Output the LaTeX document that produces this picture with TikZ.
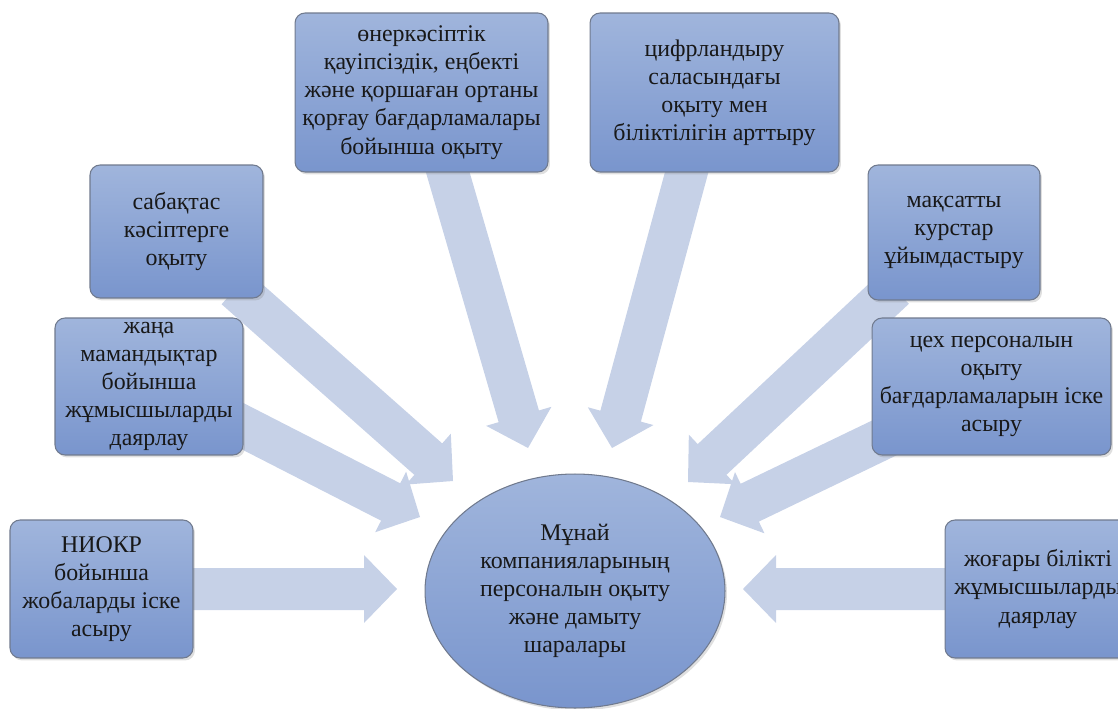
\documentclass[tikz,border=0pt]{standalone}
\usepackage{fontspec}
\setmainfont{Liberation Serif}
\usepackage{tikz}
\usetikzlibrary{shapes,arrows,positioning,shadows,calc,backgrounds}

\definecolor{boxtop}{RGB}{160,181,220}
\definecolor{boxbottom}{RGB}{121,149,205}
\definecolor{boxline}{RGB}{112,122,142}
\definecolor{arrowfill}{RGB}{198,209,231}
\definecolor{textdark}{RGB}{24,24,24}

% wide block arrow from #1 to #2
\newcommand{\blockarrow}[2]{%
    \coordinate (hb) at ($(#2)!0.66cm!(#1)$);
    \fill[arrowfill] ($(#1)!0.42cm!90:(#2)$) -- ($(hb)!0.42cm!90:(#2)$)
        -- ($(hb)!0.68cm!90:(#2)$) -- (#2) -- ($(hb)!0.68cm!-90:(#2)$)
        -- ($(hb)!0.42cm!-90:(#2)$) -- ($(#1)!0.42cm!-90:(#2)$) -- cycle;
}

\begin{document}
\begin{tikzpicture}[x=0.02cm, y=-0.02cm,
    measurebox/.style={draw=boxline, line width=0.6pt, rounded corners=0.2cm,
        top color=boxtop, bottom color=boxbottom,
        drop shadow={opacity=0.25, shadow xshift=0.04cm, shadow yshift=-0.05cm},
        align=center, inner sep=2pt, text=textdark,
        font=\fontsize{13.6}{16}\selectfont},
    hub/.style={ellipse, draw=boxline, line width=0.6pt,
        top color=boxtop, bottom color=boxbottom,
        drop shadow={opacity=0.25, shadow xshift=0.04cm, shadow yshift=-0.05cm},
        align=center, inner sep=0pt, text=textdark,
        font=\fontsize{13.6}{16}\selectfont}]
    \useasboundingbox (0,0) rectangle (1118,709);
    \clip (0,0) rectangle (1118,709);

    % Central ellipse
    \node[hub, minimum width=6.0cm, minimum height=4.68cm] (hub) at (575,591)
        {Мұнай\\компанияларының\\персоналын оқыту\\және дамыту\\шаралары};

    % Boxes around
    \node[measurebox, minimum width=5.06cm, minimum height=3.18cm] (safety) at (421.5,92.5)
        {өнеркәсіптік\\қауіпсіздік, еңбекті\\және қоршаған ортаны\\қорғау бағдарламалары\\бойынша оқыту};
    \node[measurebox, minimum width=4.98cm, minimum height=3.18cm] (digital) at (714.5,92.5)
        {цифрландыру\\саласындағы\\оқыту мен\\біліктілігін арттыру};
    \node[measurebox, minimum width=3.46cm, minimum height=2.66cm] (related) at (176.5,231.5)
        {сабақтас\\кәсіптерге\\оқыту};
    \node[measurebox, minimum width=3.76cm, minimum height=2.74cm] (newprof) at (149,386.5)
        {жаңа\\мамандықтар\\бойынша\\жұмысшыларды\\даярлау};
    \node[measurebox, minimum width=3.66cm, minimum height=2.76cm] (niokr) at (101.5,589)
        {НИОКР\\бойынша\\жобаларды іске\\асыру};
    \node[measurebox, minimum width=3.44cm, minimum height=2.70cm] (courses) at (954,232.5)
        {мақсатты\\курстар\\ұйымдастыру};
    \node[measurebox, minimum width=4.78cm, minimum height=2.74cm] (shop) at (991.5,386.5)
        {цех персоналын\\оқыту\\бағдарламаларын іске\\асыру};
    \node[measurebox, minimum width=3.72cm, minimum height=2.76cm] (skilled) at (1038,589)
        {жоғары білікті\\жұмысшыларды\\даярлау};

    % Arrow ends
    \coordinate (safety-out) at ([shift={(20.5,-20)}]safety.south);
    \coordinate (digital-out) at ([shift={(-22.5,-20)}]digital.south);
    \coordinate (related-out) at ([shift={(-28,-10)}]related.south east);
    \coordinate (newprof-out) at ([shift={(-13,33.5)}]newprof.east);
    \coordinate (niokr-out) at ([shift={(-13,0)}]niokr.east);
    \coordinate (courses-out) at ([shift={(27,-12)}]courses.south west);
    \coordinate (shop-out) at ([shift={(23,46.5)}]shop.west);
    \coordinate (skilled-out) at ([shift={(15,0)}]skilled.west);

    \coordinate (safety-in) at (528,448);
    \coordinate (digital-in) at (612,448);
    \coordinate (related-in) at (453,481);
    \coordinate (newprof-in) at (420,517);
    \coordinate (niokr-in) at (397,589);
    \coordinate (courses-in) at (688,482);
    \coordinate (shop-in) at (720,517);
    \coordinate (skilled-in) at (743,589);

    % Block arrows
    \begin{scope}[on background layer]
        \foreach \n in {safety,digital,related,newprof,niokr,courses,shop,skilled} {
            \blockarrow{\n-out}{\n-in}
        }
    \end{scope}
\end{tikzpicture}
\end{document}
